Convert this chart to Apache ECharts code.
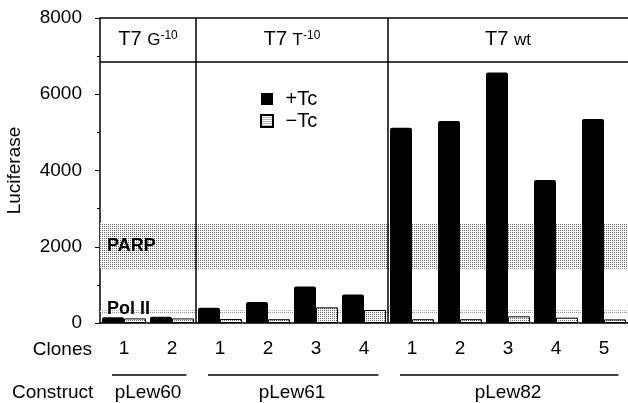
<!DOCTYPE html>
<html>
<head>
<meta charset="utf-8">
<script src="https://cdn.jsdelivr.net/npm/echarts@6/dist/echarts.min.js"></script>
<style>
  html, body { margin: 0; padding: 0; background: #fff; }
  #chart { width: 628px; height: 403px; }
</style>
</head>
<body>
<div id="chart"></div>
<script>
const clones = ['1', '2', '1', '2', '3', '4', '1', '2', '3', '4', '5']
const plusTc = [150, 165, 400, 550, 960, 750, 5120, 5300, 6570, 3750, 5350]
const minusTc = [120, 120, 105, 100, 410, 340, 100, 100, 175, 140, 95]
const groupLabels = ['{a|T7 }{b|G}{c|-10}', '{a|T7 }{b|T}{c|-10}', '{a|T7 }{b|wt}']
const groupSpans = [[0, 2], [2, 6], [6, 11]]
const constructs = ['pLew60', 'pLew61', 'pLew82']
const parpBand = [1420, 2620]
const polBand = [270, 330]
const headerBand = [6850, 8000]

const FONT = '"Liberation Sans", Arial, Helvetica, sans-serif'

// stipple fill used for the -Tc bars and the reference bands
const stipple = (() => {
  const c = document.createElement('canvas')
  c.width = 2
  c.height = 2
  const g = c.getContext('2d')
  g.fillStyle = '#fff'
  g.fillRect(0, 0, 2, 2)
  g.fillStyle = '#666'
  g.fillRect(0, 0, 1, 1)
  return { image: c, repeat: 'repeat' }
})()

const chart = echarts.init(document.getElementById('chart'))

const richHead = {
  a: { fontSize: 20, fontFamily: FONT, color: '#000' },
  b: { fontSize: 17, fontFamily: FONT, color: '#000' },
  c: { fontSize: 12, fontFamily: FONT, color: '#000', padding: [0, 0, 9, 0] }
}

const option = {
  animation: false,
  textStyle: { fontFamily: FONT, color: '#000' },
  grid: { left: 100, right: 0, top: 18, bottom: 80, outerBoundsMode: 'none' },
  legend: {
    orient: 'vertical',
    left: 255,
    top: 84,
    itemWidth: 27,
    itemHeight: 12,
    itemGap: 2,
    icon: 'path://M0,0H12V12H0Z',
    textStyle: { fontSize: 20, fontFamily: FONT, color: '#000' },
    data: ['+Tc', '\u2212Tc']
  },
  xAxis: [
    {
      type: 'category',
      data: clones,
      axisLine: { lineStyle: { color: '#000', width: 1.5 } },
      axisTick: { show: false },
      axisLabel: { fontSize: 19, color: '#000', margin: 16 }
    },
    { type: 'value', min: 0, max: 11, show: false }
  ],
  yAxis: {
    type: 'value',
    min: 0,
    max: 8000,
    interval: 2000,
    name: 'Luciferase',
    nameLocation: 'middle',
    nameGap: 76,
    nameTextStyle: { fontSize: 19, color: '#000' },
    axisLine: { show: true, lineStyle: { color: '#000', width: 1.5 } },
    axisTick: { show: true, length: 5, lineStyle: { color: '#000' } },
    minorTick: { show: true, splitNumber: 2, length: 3, lineStyle: { color: '#000' } },
    splitLine: { show: false },
    axisLabel: { fontSize: 19, color: '#000', margin: 18, formatter: (v) => String(v) }
  },
  series: [
    {
      name: 'frame',
      type: 'line',
      xAxisIndex: 1,
      data: [],
      z: 1,
      markArea: {
        silent: true,
        data: [
          [
            { xAxis: 0, yAxis: parpBand[0], itemStyle: { color: stipple },
              label: { show: true, position: 'insideLeft', distance: 7, formatter: 'PARP',
                fontSize: 18, fontWeight: 'bold', color: '#000' } },
            { xAxis: 11, yAxis: parpBand[1] }
          ],
          [
            { xAxis: 0, yAxis: polBand[0], itemStyle: { color: stipple },
              label: { show: true, position: 'insideLeft', distance: 7, offset: [0, -3], formatter: 'Pol II',
                fontSize: 18, fontWeight: 'bold', color: '#000' } },
            { xAxis: 11, yAxis: polBand[1] }
          ],
          ...groupSpans.map((s, i) => [
            { xAxis: s[0], yAxis: headerBand[0], itemStyle: { color: 'rgba(0,0,0,0)' },
              label: { show: true, position: 'inside', formatter: groupLabels[i], rich: richHead } },
            { xAxis: s[1], yAxis: headerBand[1] }
          ])
        ]
      },
      markLine: {
        silent: true,
        symbol: 'none',
        label: { show: false },
        lineStyle: { color: '#000', width: 1.5, type: 'solid' },
        data: [
          { xAxis: groupSpans[1][0] },
          { xAxis: groupSpans[2][0] },
          { yAxis: headerBand[0] },
          { yAxis: headerBand[1] }
        ]
      }
    },
    {
      name: '+Tc',
      type: 'bar',
      data: plusTc,
      barWidth: 22,
      barGap: '0%',
      z: 3,
      itemStyle: { color: '#000', borderRadius: [2, 2, 0, 0] }
    },
    {
      name: '\u2212Tc',
      type: 'bar',
      data: minusTc,
      barWidth: 22,
      barGap: '0%',
      z: 3,
      itemStyle: { color: stipple, borderColor: '#000', borderWidth: 1 }
    }
  ]
}

chart.setOption(option)

// construct row beneath the clone numbers
const px = (v) => chart.convertToPixel({ xAxisIndex: 1 }, v)
const graphic = [
  { type: 'text', style: { text: 'Clones', x: 92, y: 350, align: 'right', verticalAlign: 'middle',
    font: '19px ' + FONT, fill: '#000' } },
  { type: 'text', style: { text: 'Construct', x: 12, y: 393, align: 'left', verticalAlign: 'middle',
    font: '19px ' + FONT, fill: '#000' } }
]
groupSpans.forEach((s, i) => {
  graphic.push({ type: 'line', shape: { x1: px(s[0] + 0.25), y1: 375, x2: px(s[1] - 0.2), y2: 375 },
    style: { stroke: '#000', lineWidth: 1.5 } })
  graphic.push({ type: 'text', style: { text: constructs[i], x: px((s[0] + s[1]) / 2), y: 393,
    align: 'center', verticalAlign: 'middle', font: '19px ' + FONT, fill: '#000' } })
})
chart.setOption({ graphic })
</script>
</body>
</html>
